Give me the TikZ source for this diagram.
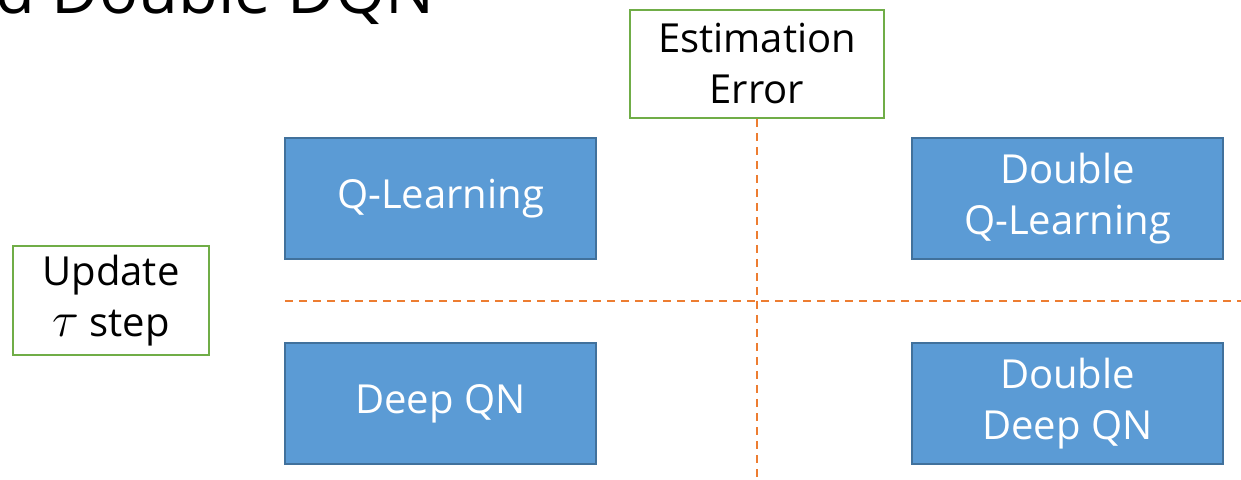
\documentclass[tikz,border=0pt]{standalone}
\usepackage{fontspec}
\setmainfont{Open Sans}
\usetikzlibrary{positioning}
\definecolor{boxblue}{HTML}{5B9BD5}
\definecolor{boxedge}{HTML}{41719C}
\definecolor{critgreen}{HTML}{70AD47}
\definecolor{seporange}{HTML}{ED7D31}

\begin{document}
\begin{tikzpicture}[x=0.5pt,y=-0.5pt,font=\fontsize{20}{25.5}\selectfont,node distance=41pt and 157pt,
  algo/.style={draw=boxedge,line width=1pt,fill=boxblue,text=white,minimum width=155.5pt,minimum height=60.5pt,align=center},
  crit/.style={draw=critgreen,line width=1pt,fill=white,align=center,inner sep=0pt},
  sep/.style={draw=seporange,line width=1pt,dash pattern=on 4pt off 3pt}]
  \path[use as bounding box,clip] (0,0) rectangle (1241,480);
  \node[anchor=base west,font=\fontsize{32.5}{38}\selectfont] (title) at (-12,14) {d Double DQN};
  % separators
  \node[crit,minimum width=127pt,minimum height=54pt] (est) at (757,64) {Estimation\\Error};
  \coordinate (vend) at (757,480);
  \coordinate (hbeg) at (285,301);
  \coordinate (hend) at (1241,301);
  \draw[sep] (est.south)--(vend);
  \draw[sep] (hbeg)--(hend);
  \node[crit,minimum width=98pt,minimum height=54.5pt] (upd) at (111,300.5) {Update\\{\fontsize{25}{25.5}\selectfont$\tau$} step};
  % algorithms
  \node[algo] (ql) at (440.5,198.5) {Q-Learning};
  \node[algo,right=of ql] (dql) {Double\\Q-Learning};
  \node[algo,below=of ql] (dqn) {Deep QN};
  \node[algo,below=of dql] (ddqn) {Double\\Deep QN};
\end{tikzpicture}
\end{document}
